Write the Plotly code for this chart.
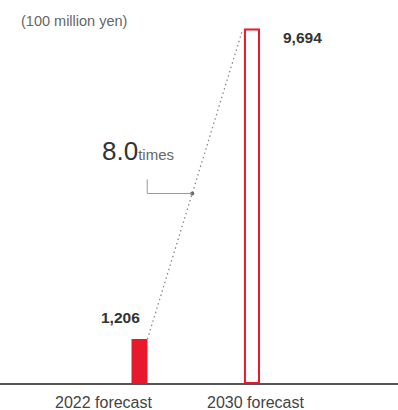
import plotly.graph_objects as go

# data
categories = ["2022 forecast", "2030 forecast"]
values = [1206, 9694]
value_labels = ["1,206", "9,694"]
unit_label = "(100 million yen)"
growth_label = "8.0"
growth_unit = "times"

RED = "#e8192c"
FONT = "Liberation Sans, Arial, Helvetica, sans-serif"

xs = list(range(len(categories)))
widths = [0.142, 0.125]

fig = go.Figure()

fig.add_trace(go.Bar(
    x=xs, y=values, width=widths,
    marker=dict(color=[RED, "white"], line=dict(color=[RED, RED], width=[0, 2])),
    hoverinfo="skip",
))

# dotted growth line from top-right of first bar to top-left of second bar
x0 = xs[0] + widths[0] / 2
x1 = xs[1] - widths[1] / 2 - 0.02
fig.add_trace(go.Scatter(
    x=[x0, x1], y=[values[0], values[1]], mode="lines",
    line=dict(color="#8a8a8a", width=1.3, dash="1.5px,3px"),
    hoverinfo="skip",
))

t = 0.47
mx = x0 + t * (x1 - x0)
my = values[0] + t * (values[1] - values[0])
fig.add_trace(go.Scatter(
    x=[mx], y=[my], mode="markers",
    marker=dict(color="#666666", size=4),
    hoverinfo="skip",
))

# leader line (L shape) from the marker
fig.add_shape(
    type="path", xref="x", yref="y",
    xsizemode="pixel", ysizemode="pixel",
    xanchor=mx, yanchor=my,
    path="M0,0 L-45,0 L-45,14",
    line=dict(color="#9a9a9a", width=1),
)

fig.add_annotation(
    x=mx, y=my, xref="x", yref="y", xanchor="left", yanchor="bottom",
    xshift=-92, yshift=25, showarrow=False,
    text=f"{growth_label}<span style='font-size:15px;color:#666666'>{growth_unit}</span>",
    font=dict(size=26, color="#333333", family=FONT),
)

# value labels
fig.add_annotation(
    x=xs[0] + widths[0] / 2, y=values[0], xref="x", yref="y",
    xanchor="right", yanchor="middle", xshift=-5, yshift=22,
    text=f"<b>{value_labels[0]}</b>", showarrow=False,
    font=dict(size=15.5, color="#333333", family=FONT),
)
fig.add_annotation(
    x=xs[1] + widths[1] / 2, y=values[1], xref="x", yref="y",
    xanchor="left", yanchor="middle", xshift=22, yshift=-8,
    text=f"<b>{value_labels[1]}</b>", showarrow=False,
    font=dict(size=15.5, color="#333333", family=FONT),
)

# category labels
for i, (cat, shift) in enumerate(zip(categories, [-35, 4])):
    fig.add_annotation(
        x=xs[i], y=0, xref="x", yref="y", xanchor="center", yanchor="middle",
        xshift=shift, yshift=-19, text=cat, showarrow=False,
        font=dict(size=16, color="#444444", family=FONT),
    )

fig.add_annotation(
    x=19 / 398, y=0.945, xref="paper", yref="paper", xanchor="left", yanchor="middle",
    text=unit_label, showarrow=False,
    font=dict(size=14.5, color="#666666", family=FONT),
)

fig.update_layout(
    width=398, height=410,
    margin=dict(t=0, l=0, r=0, b=27),
    paper_bgcolor="white", plot_bgcolor="white",
    showlegend=False,
    xaxis=dict(range=[-1.24, 2.298], showgrid=False, zeroline=False, showticklabels=False,
               showline=True, linecolor="#555555", linewidth=1.5, fixedrange=True),
    yaxis=dict(range=[0, 10500], visible=False, fixedrange=True),
)

fig.write_html(
    "out.html",
    config={"displayModeBar": False},
    post_script="document.body.style.margin='0';",
)
